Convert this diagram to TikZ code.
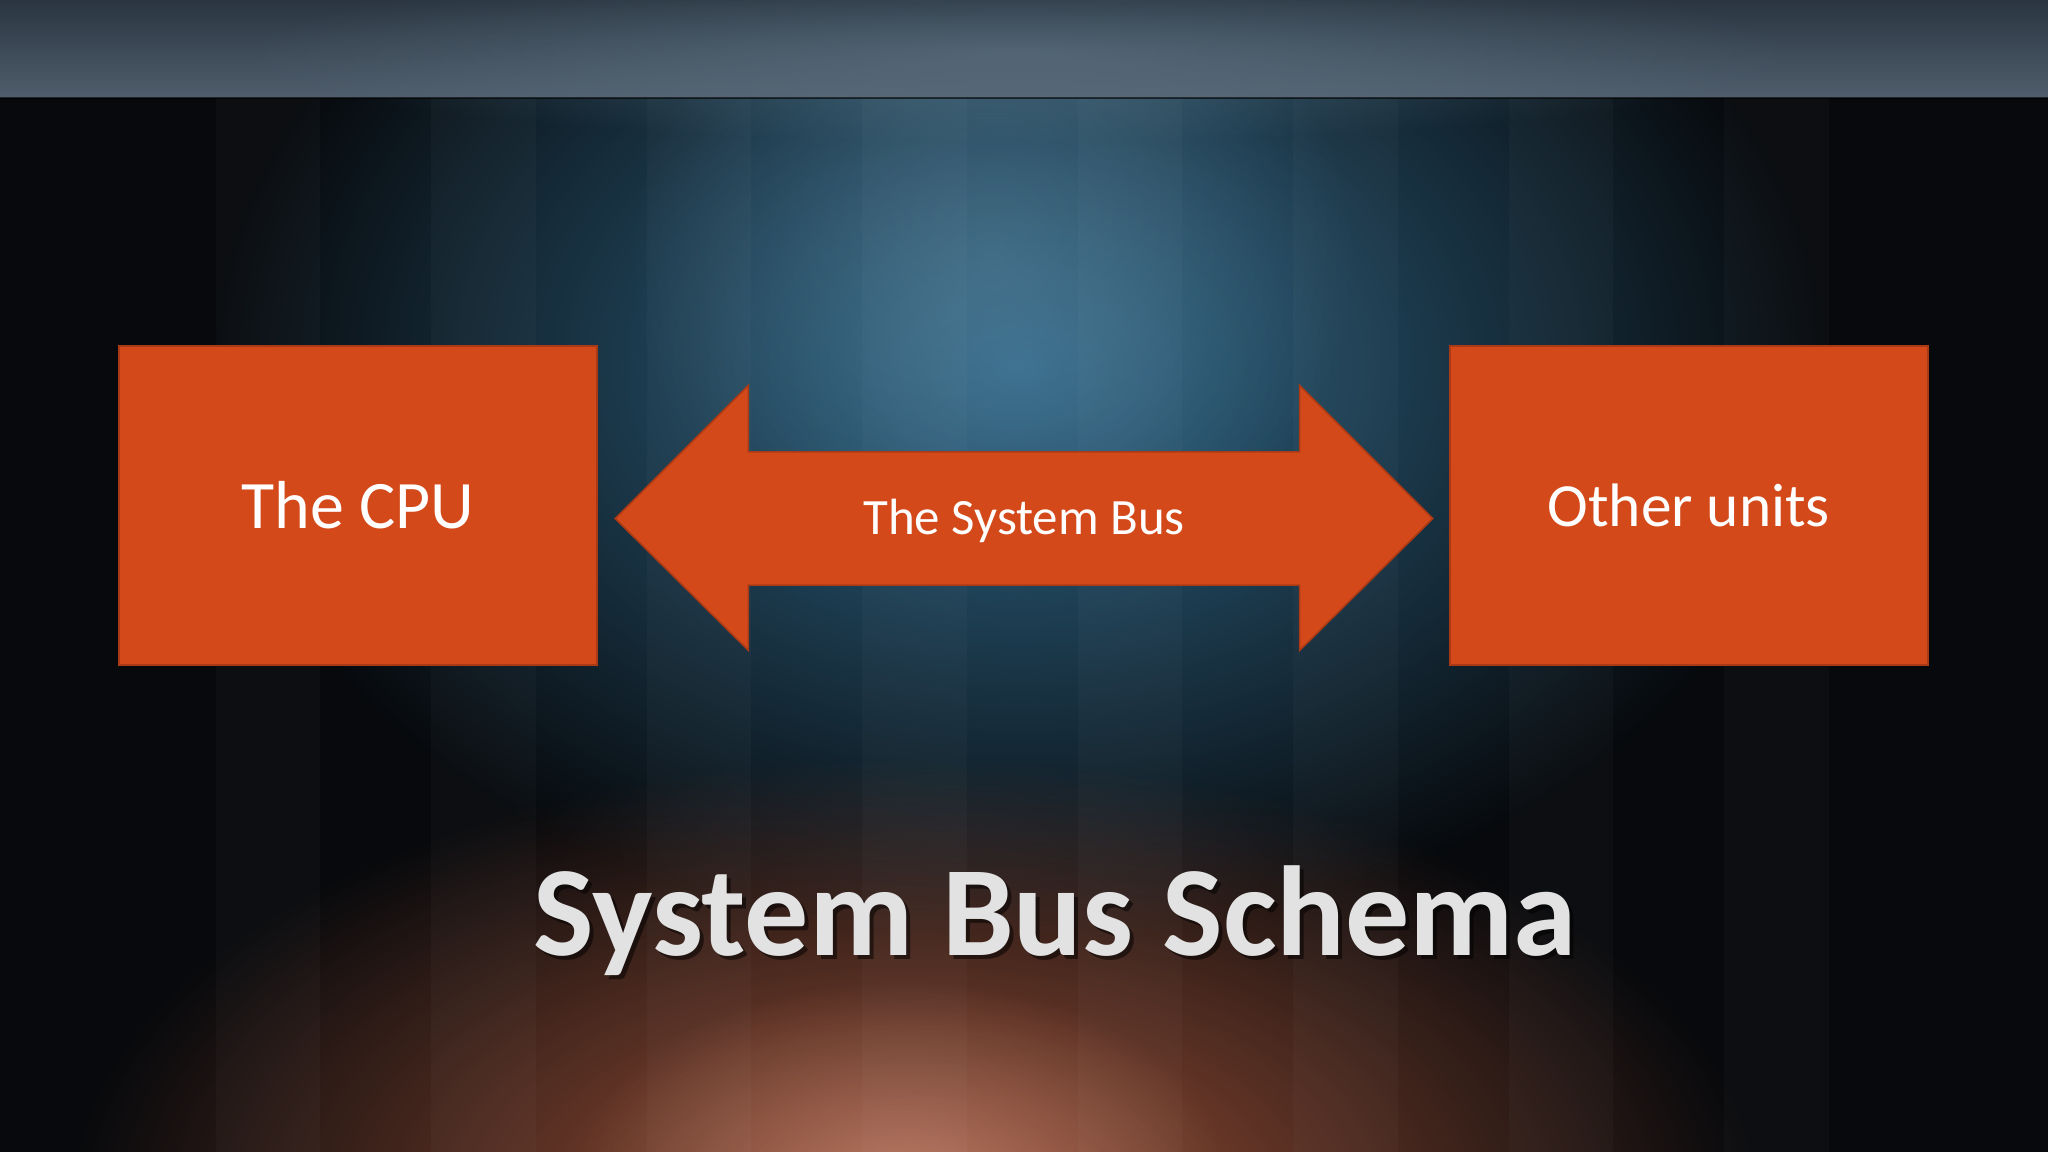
\documentclass[tikz,border=0pt]{standalone}
\usepackage{fontspec}
\setmainfont{Carlito}
\usetikzlibrary{fadings}
\definecolor{bg}{HTML}{07090C}
\definecolor{boxc}{HTML}{D4491A}
\definecolor{glowb}{HTML}{2F6788}
\definecolor{glowo}{HTML}{B05A3C}
\definecolor{band}{HTML}{3C4C5C}
\definecolor{titlec}{HTML}{E2E2E2}
\tikzfading[name=softglow, inner color=transparent!0, outer color=transparent!100]
\tikzset{
  unitbox/.style={fill=boxc, draw=boxc!80!black, line width=0.6pt, minimum width=183pt, minimum height=122pt, inner sep=0pt},
  boxtext/.style={text=white, font=\fontsize{26}{31}\selectfont},
}
\begin{document}
\begin{tikzpicture}[x=0.5pt,y=-0.5pt]
\useasboundingbox (0,0) rectangle (1568,882);
\fill[bg] (0,0) rectangle (1568,882);
% glows
\fill[glowb, path fading=softglow] (780,280) ellipse [x radius=620, y radius=440];
\fill[glowb!70!white, opacity=0.4, path fading=softglow] (760,200) ellipse [x radius=280, y radius=260];
\fill[glowo, opacity=0.9, path fading=softglow] (700,920) ellipse [x radius=650, y radius=340];
\fill[glowo!60!white, opacity=0.5, path fading=softglow] (690,900) ellipse [x radius=250, y radius=150];
% faint stripes
\foreach \x in {165,330,495,660,825,990,1155,1320}
  \fill[white, opacity=0.025] (\x,75) rectangle (\x+80,882);
% top band
\shade[top color=band!70!black, bottom color=band!90] (0,0) rectangle (1568,75);
\fill[glowb!60!white, opacity=0.3, path fading=softglow] (780,40) ellipse [x radius=600, y radius=70];
\draw[black, opacity=0.6, line width=1pt] (0,75) -- (1568,75);
% boxes
\node[unitbox, boxtext] (cpu) at (274,387) {The CPU};
\node[unitbox, font=\fontsize{23.5}{28}\selectfont, text=white] (other) at (1293,387) {Other units};
% double arrow
\fill[boxc, draw=boxc!80!black, line width=0.6pt] (471,397) -- (573,295) -- (573,346) -- (995,346) -- (995,295) -- (1097,397) -- (995,498) -- (995,448) -- (573,448) -- (573,498) -- cycle;
\node[text=white, font=\fontsize{19.5}{24}\selectfont] (bus) at (784,399) {The System Bus};
% title
\node[text=black, opacity=0.5, font=\bfseries\fontsize{49}{57}\selectfont] at (811,708) {System Bus Schema};
\node[text=titlec, font=\bfseries\fontsize{49}{57}\selectfont] (title) at (808,705) {System Bus Schema};
\end{tikzpicture}
\end{document}
